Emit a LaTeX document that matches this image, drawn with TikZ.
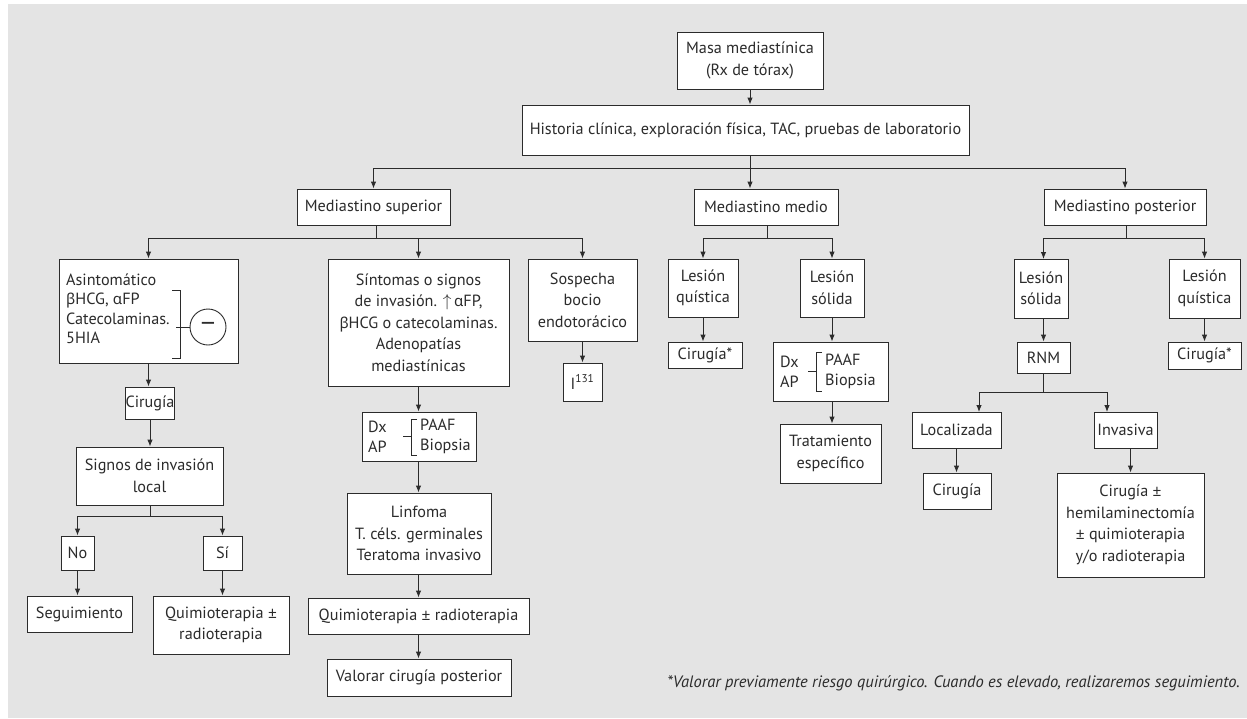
\documentclass[tikz,border=0pt]{standalone}
\usepackage{fontspec}
\setmainfont{PT Sans}
\newfontfamily\grk{Noto Sans}
\usetikzlibrary{arrows.meta}
\definecolor{bg}{HTML}{E4E4E4}
\definecolor{ln}{HTML}{2B2B2B}
\newcommand\bx[6]{\node[box, minimum width={#4-#2}, minimum height={#5-#3}] (#1) at ({(#2+#4)/2},{(#3+#5)/2}) {#6};}
\newcommand\gb{{\grk\fontsize{15}{20}\selectfont β}}
\newcommand\ga{{\grk\fontsize{15}{20}\selectfont α}}
\newcommand\pmt{{\grk\fontsize{15.5}{20}\selectfont ±}}
\begin{document}
\begin{tikzpicture}[x=1pt,y=-1pt,
  txt/.style={font=\fontsize{16.2}{21.5}\selectfont, text=ln},
  box/.style={draw=ln, fill=white, line width=0.9pt, inner sep=0pt, align=center, txt},
  conn/.style={draw=ln, line width=0.9pt},
  arr/.style={conn, -{Latex[length=7pt,width=5.5pt]}},
  lbl/.style={inner sep=0pt, align=left, txt}]
\useasboundingbox (0,0) rectangle (1247,718);
\fill[white] (0,0) rectangle (1247,718);
\fill[bg] (8,4) rectangle (1247,718);

% boxes
\bx{masa}{677}{32}{823}{89}{Masa mediastínica\\(Rx de tórax)}
\bx{hist}{522}{105}{969}{155}{Historia clínica, exploración física, TAC, pruebas de laboratorio}
\bx{msup}{297}{189}{450}{225}{Mediastino superior}
\bx{mmed}{694}{189}{838}{225}{Mediastino medio}
\bx{mpos}{1044}{189}{1206}{225}{Mediastino posterior}
\bx{asin}{59}{259}{238}{363}{}
\bx{sint}{328}{259}{509}{386}{Síntomas o signos\\de invasión. $\uparrow$\,\ga FP,\\\gb HCG o catecolaminas.\\Adenopatías\\mediastínicas}
\bx{sosp}{528}{259}{637}{341}{Sospecha\\bocio\\endotorácico}
\bx{lqm}{668}{259}{738}{317}{Lesión\\quística}
\bx{lsm}{800}{259}{864}{317}{Lesión\\sólida}
\bx{lsp}{1014}{259}{1068}{318}{Lesión\\sólida}
\bx{lqp}{1169}{259}{1240}{318}{Lesión\\quística}
\bx{cir1}{128}{387}{172}{419}{Cirugía}
\bx{dx1}{362}{412}{476}{461}{}
\bx{iodo}{563}{363}{602}{401}{I\textsuperscript{131}}
\bx{cirm}{668}{342}{742}{368}{Cirugía*}
\bx{dx2}{773}{342}{888}{401}{}
\bx{trat}{780}{424}{881}{483}{Tratamiento\\específico}
\bx{rnm}{1017}{342}{1070}{373}{RNM}
\bx{cirp}{1168}{342}{1241}{369}{Cirugía*}
\bx{signos}{76}{447}{223}{505}{Signos de invasión\\local}
\bx{linf}{347}{493}{491}{574}{Linfoma\\T. céls. germinales\\Teratoma invasivo}
\bx{loc}{912}{412}{1001}{448}{Localizada}
\bx{inv}{1094}{412}{1157}{448}{Invasiva}
\bx{no}{61}{536}{94}{570}{No}
\bx{si}{203}{536}{242}{570}{Sí}
\bx{qr2}{308}{598}{529}{634}{Quimioterapia \pmt{} radioterapia}
\bx{cirl}{923}{473}{991}{509}{Cirugía}
\bx{hemi}{1057}{473}{1204}{577}{Cirugía \pmt\\hemilaminectomía\\\pmt{} quimioterapia\\y/o radioterapia}
\bx{seg}{27}{596}{132}{632}{Seguimiento}
\bx{qr1}{153}{596}{289}{654}{Quimioterapia \pmt\\radioterapia}
\bx{val}{327}{659}{511}{696}{Valorar cirugía posterior}

% Asintomatico contents
\node[lbl, anchor=west, font=\fontsize{16.2}{19.5}\selectfont] (asintxt) at (66,309) {Asintomático\\\gb HCG, \ga FP\\Catecolaminas.\\5HIA};
\draw[conn] (172,290) -- (180,290) -- (180,358) -- (172,358);
\node[draw=ln, line width=0.9pt, circle, minimum size=36pt, inner sep=0pt, text=ln, font=\grk\fontsize{26}{26}\selectfont] (neg) at (208,327) {−};
\draw[conn] (176,327) -- (neg.west);

% Dx AP (superior)
\node[lbl, anchor=west, font=\fontsize{16.2}{20}\selectfont] (dx1a) at (368,436.5) {Dx\\AP};
\draw[conn] (403,436.5) -- (411,436.5);
\draw[conn] (417,419) -- (411,419) -- (411,455) -- (417,455);
\node[lbl, anchor=west, font=\fontsize{16.2}{20}\selectfont] (dx1b) at (420,436.5) {PAAF\\Biopsia};

% Dx AP (medio)
\node[lbl, anchor=west, font=\fontsize{16.2}{20}\selectfont] (dx2a) at (780,371.5) {Dx\\AP};
\draw[conn] (808,371.5) -- (816,371.5);
\draw[conn] (822,352) -- (816,352) -- (816,391) -- (822,391);
\node[lbl, anchor=west, font=\fontsize{16.2}{20}\selectfont] (dx2b) at (825,371.5) {PAAF\\Biopsia};

% connectors
\draw[arr] (masa.south) -- (masa.south |- hist.north);
\coordinate (j1) at (750,168);
\draw[conn] (j1 |- hist.south) -- (j1);
\draw[conn] (j1 -| msup) -- (j1 -| mpos);
\draw[arr] (j1 -| msup) -- (msup.north);
\draw[arr] (j1) -- (j1 |- mmed.north);
\draw[arr] (j1 -| mpos) -- (mpos.north);

\coordinate (j2) at (376,238);
\draw[conn] (j2 |- msup.south) -- (j2);
\draw[conn] (j2 -| asin) -- (j2 -| sosp);
\draw[arr] (j2 -| asin) -- (asin.north);
\draw[arr] (j2 -| sint) -- (sint.north);
\draw[arr] (j2 -| sosp) -- (sosp.north);

\coordinate (j3) at (767,238);
\draw[conn] (j3 |- mmed.south) -- (j3);
\draw[conn] (j3 -| lqm) -- (j3 -| lsm);
\draw[arr] (j3 -| lqm) -- (lqm.north);
\draw[arr] (j3 -| lsm) -- (lsm.north);

\coordinate (j4) at (1126,238);
\coordinate (lspin) at (1043.5,259);
\draw[conn] (j4 |- mpos.south) -- (j4);
\draw[conn] (lspin |- j4) -- (j4 -| lqp);
\draw[arr] (lspin |- j4) -- (lspin);
\draw[arr] (j4 -| lqp) -- (lqp.north);

\draw[arr] (asin.south) -- (asin.south |- cir1.north);
\draw[arr] (cir1.south) -- (cir1.south |- signos.north);
\coordinate (j5) at (150,516);
\draw[conn] (j5 |- signos.south) -- (j5);
\draw[conn] (j5 -| no) -- (j5 -| si);
\draw[arr] (j5 -| no) -- (no.north);
\draw[arr] (j5 -| si) -- (si.north);
\draw[arr] (no.south) -- (no.south |- seg.north);
\draw[arr] (si.south) -- (si.south |- qr1.north);

\draw[arr] (sint.south) -- (sint.south |- dx1.north);
\draw[arr] (dx1.south -| sint) -- (sint |- linf.north);
\draw[arr] (linf.south -| sint) -- (sint |- qr2.north);
\draw[arr] (qr2.south -| sint) -- (sint |- val.north);

\draw[arr] (sosp.south) -- (sosp.south |- iodo.north);
\draw[arr] (lqm.south) -- (lqm.south |- cirm.north);
\draw[arr] (lsm.south) -- (lsm.south |- dx2.north);
\draw[arr] (lsm.south |- dx2.south) -- (lsm.south |- trat.north);

\draw[arr] (rnm.north |- lsp.south) -- (rnm.north);
\coordinate (j6) at (1043.5,392);
\coordinate (locin) at (979,412);
\coordinate (invin) at (1107,412);
\draw[conn] (rnm.south) -- (j6);
\draw[conn] (locin |- j6) -- (invin |- j6);
\draw[arr] (locin |- j6) -- (locin);
\draw[arr] (invin |- j6) -- (invin);
\draw[arr] (loc.south) -- (loc.south |- cirl.north);
\draw[arr] (hemi.north |- inv.south) -- (hemi.north);
\draw[arr] (lqp.south) -- (lqp.south |- cirp.north);

% footnote
\node[anchor=base east, inner sep=0pt, text=ln, font=\fontsize{16.5}{20}\selectfont\itshape] (nota) at (1240,687) {*Valorar previamente riesgo quirúrgico. Cuando es elevado, realizaremos seguimiento.};
\end{tikzpicture}
\end{document}
